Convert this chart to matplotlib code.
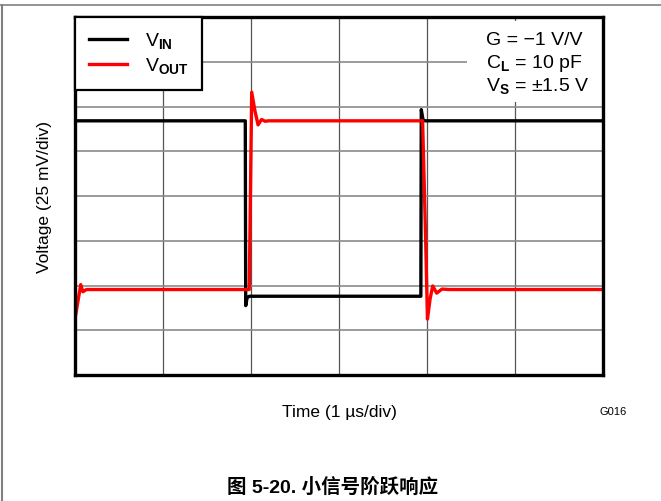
import matplotlib
matplotlib.use("Agg")
import matplotlib.pyplot as plt
from matplotlib.lines import Line2D
from matplotlib.patches import Rectangle

plt.rcParams['font.family'] = ['Liberation Sans', 'DejaVu Sans']
plt.rcParams['mathtext.fontset'] = 'custom'
plt.rcParams['mathtext.rm'] = 'Liberation Sans'
plt.rcParams['mathtext.bf'] = 'Liberation Sans:bold'

# time in divisions (1 us/div), voltage in divisions (25 mV/div)
vin_t = [0.0, 1.935, 1.94, 1.955, 1.98, 3.93, 3.935, 3.955, 3.98, 6.0]
vin_v = [5.68, 5.68, 1.55, 1.72, 1.76, 1.76, 5.93, 5.70, 5.68, 5.68]

vout_t = [0.0, 0.065, 0.09, 0.13, 1.98, 2.008, 2.045, 2.08, 2.12, 2.16, 2.2,
          3.95, 3.985, 4.005, 4.035, 4.065, 4.11, 4.17, 4.25, 6.0]
vout_v = [1.25, 2.02, 1.86, 1.91, 1.91, 6.32, 5.90, 5.59, 5.71, 5.67, 5.68,
          5.68, 3.0, 1.25, 1.70, 1.99, 1.83, 1.92, 1.91, 1.91]

n_xdiv = 6
n_ydiv = 8

fig = plt.figure(figsize=(6.61, 5.02), dpi=100)
ax = fig.add_axes([75/661, 1-376/502, 528/661, 358/502])

ax.plot(vin_t, vin_v, color='black', lw=2.4, zorder=3, label=r'V$_{\mathbf{IN}}$')
ax.plot(vout_t, vout_v, color='#ff0000', lw=2.4, zorder=4, label=r'V$_{\mathbf{OUT}}$')

ax.set_xlim(0, n_xdiv)
ax.set_ylim(0, n_ydiv)
for i in range(1, n_xdiv):
    ax.axvline(i, color='#555555', lw=0.9, zorder=1)
for j in range(1, n_ydiv):
    ax.axhline(j, color='#8a8a8a', lw=1.2, zorder=1)
ax.set_xticks([])
ax.set_yticks([])
for s in ax.spines.values():
    s.set_linewidth(2.4)
    s.set_zorder(6)

# white patch behind the conditions text
ax.add_patch(Rectangle((4.455, 6.1), 1.545, 1.82, facecolor='white',
                       edgecolor='none', zorder=2))
ax.text(4.67, 7.49, 'G = \u22121 V/V', fontsize=14, va='center', ha='left', zorder=5)
ax.text(4.67, 6.98, r'C$_{\mathbf{L}}$ = 10 pF', fontsize=14, va='center', ha='left', zorder=5)
ax.text(4.67, 6.46, r'V$_{\mathbf{S}}$ = ' + '\u00b11.5 V', fontsize=14, va='center', ha='left', zorder=5)

leg = ax.legend(loc='upper left', borderaxespad=0, fontsize=14, fancybox=False,
                edgecolor='black', framealpha=1, handlelength=1.95, handletextpad=0.95,
                labelspacing=0.25, borderpad=0.7)
leg.get_frame().set_linewidth(1.6)
leg.set_zorder(7)

fig.text(45/661, 1-197/502, 'Voltage (25 mV/div)', rotation=90, fontsize=12.5,
         ha='center', va='center')
fig.text(339/661, 1-412/502, 'Time (1 \u00b5s/div)', fontsize=12.5, ha='center', va='center')
fig.text(613/661, 1-412/502, 'G016', fontsize=8, ha='center', va='center')
fig.text(333/661, 1-487/502, '图 5-20. 小信号阶跃响应', fontsize=14, fontweight='bold',
         ha='center', va='center', family=['Liberation Sans', 'Noto Sans CJK SC'])

# page frame
fig.add_artist(Line2D([0, 1], [1-6/502, 1-6/502], color='#808080', lw=1.2))
fig.add_artist(Line2D([1.5/661, 1.5/661], [0, 1-6/502], color='#808080', lw=1.5))

fig.savefig('out.png', dpi=100)
